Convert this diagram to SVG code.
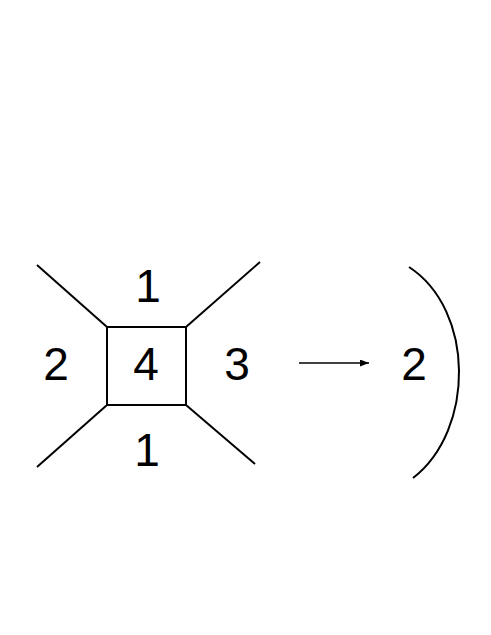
<svg xmlns="http://www.w3.org/2000/svg" width="491" height="635" viewBox="0 0 491 635">
<defs>
<style>
.lbl{font-family:"Liberation Sans",Arial,sans-serif;font-size:46px;fill:#000;text-anchor:middle}
.ln{stroke:#000;stroke-width:2;fill:none}
</style>
<marker id="ah" markerWidth="9" markerHeight="7" refX="9" refY="3.5" orient="auto" markerUnits="userSpaceOnUse">
<path d="M0,0 L9,3.5 L0,7 Z" fill="#000"/>
</marker>
</defs>
<rect width="491" height="635" fill="#fff"/>
<g id="box">
<rect class="ln" x="107" y="327" width="79" height="78"/>
<line class="ln" x1="107" y1="327" x2="37" y2="265"/>
<line class="ln" x1="186" y1="327" x2="260" y2="262"/>
<line class="ln" x1="107" y1="405" x2="37" y2="467"/>
<line class="ln" x1="186" y1="405" x2="255" y2="464"/>
</g>
<g id="labels">
<text class="lbl" x="148" y="302">1</text>
<text class="lbl" x="56" y="380">2</text>
<text class="lbl" x="146" y="380">4</text>
<text class="lbl" x="237" y="380">3</text>
<text class="lbl" x="147" y="466">1</text>
<text class="lbl" x="414" y="380">2</text>
</g>
<g id="paren">
<path class="ln" d="M409,267 C475,310 475,430 413,478"/>
</g>
<g id="connectors">
<line x1="299" y1="363" x2="369" y2="363" stroke="#000" stroke-width="1.5" marker-end="url(#ah)"/>
</g>
</svg>
